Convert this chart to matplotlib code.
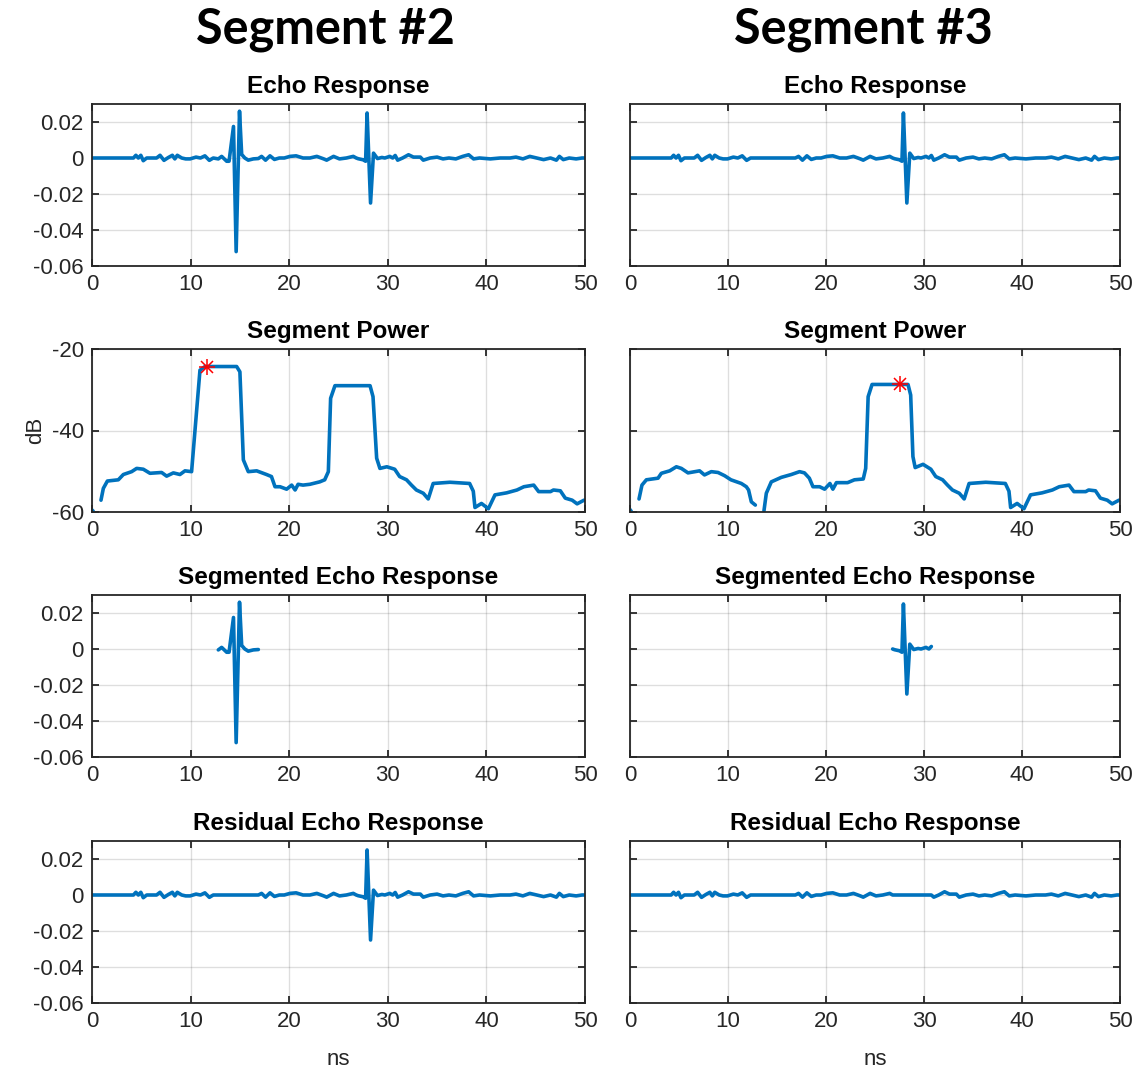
import numpy as np
import matplotlib
matplotlib.use("Agg")
import matplotlib.pyplot as plt

plt.rcParams['font.family'] = ['Liberation Sans', 'DejaVu Sans']
plt.rcParams['axes.unicode_minus'] = False

# ---------------- data ----------------
# full echo response (time in ns, amplitude)
echo_t = [0, 4.2, 4.45, 4.7, 4.95, 5.2, 5.55, 6.55, 6.9, 7.3, 7.75, 8.15, 8.4, 8.65, 9.1, 9.5, 9.95,
          10.55, 11.0, 11.45, 11.9, 12.3,
          12.81, 13.15, 13.66, 13.9, 14.35, 14.62, 14.96, 15.18, 15.5, 15.85, 16.36, 16.87,
          17.2, 17.6, 18.05, 18.5, 19.0, 19.5, 20.08, 20.7, 21.4, 22.1, 22.8, 23.5, 23.8, 24.5,
          25.1, 25.8, 26.5,
          26.8, 27.0, 27.5, 27.75, 27.9, 28.25, 28.55, 28.95, 29.4, 29.7, 30.2, 30.5, 30.75,
          31.0, 31.5, 32.1, 32.6, 33.3, 33.6, 34.3, 35.0, 35.6, 36.2, 36.9, 37.6, 38.2, 38.7,
          39.3, 40.4, 41.4, 42.4, 43.0, 43.7, 44.4, 45.1, 45.8, 46.5, 47.1, 47.4, 47.8, 48.4,
          49.1, 49.7, 50.0]
echo_v_milli = [0, 0, 1.5, 0, 1.5, -1.5, 0, 0, 1.5, -1.3, 0.3, 1.5, -0.5, 1.5, 0, -0.5, -0.5,
                0.5, 0, 1.2, -1.3, 0,
                -0.5, 0.9, -1.8, -1.8, 17.5, -52, 26, 2, 0, -1.2, -0.5, -0.3,
                0.9, -1.2, 1.2, -0.8, 0, 0, 0.9, 1.2, 0, 0, 0.9, -0.5, -1.2, 0.9,
                -0.5, 0, 0.9,
                0, -0.4, -1, -1.8, 25, -25, 2.7, -0.3, 0.3, 0, 0.9, 0, 1.4,
                -1.2, 0, 1.8, 0.5, 0.5, -1.2, 0, 0.5, -0.5, 0, -0.5, 0.9, 1.8, -0.5,
                0, -0.5, 0, 0, 0.5, -0.5, 0.9, 0, -0.9, 0, -1.2, 0.9, -0.9, 0,
                -0.5, 0, 0]

# segment windows (ns)
seg2_window = [12.75, 16.9]
seg3_window = [26.75, 30.8]

# segment power, segment #2 view (dB)
pow2_t = [0.0, 0.12, 0.5, 0.91, 1.15, 1.56, 2.67, 3.18, 4.02, 4.53, 5.2, 5.88, 7.06, 7.57, 8.25, 8.92,
          9.43, 10.1, 10.95, 11.46, 14.67, 15.0, 15.35, 15.85, 16.7, 17.7, 18.2, 18.56, 19.07,
          19.74, 20.25, 20.6, 20.9, 21.4, 22.1, 23.1, 23.6, 23.97, 24.2, 24.64, 28.2, 28.5,
          28.87, 29.2, 29.9, 30.7, 31.2, 31.9, 32.4, 32.9, 33.6, 34.1, 34.6, 36.3, 38.3, 38.67,
          38.84, 39.5, 40.2, 40.87, 42.05, 43.1, 43.8, 44.8, 45.3, 46.5, 46.8, 47.5, 48.0, 48.7,
          49.2, 49.9]
pow2_db = [-59.5, -59.8, np.nan, -57.1, -54.2, -52.4, -52.1, -50.8, -50.1, -49.3, -49.5, -50.5, -50.3,
           -51.2, -50.4, -50.8, -49.9, -50.1, -25.2, -24.3, -24.3, -25.6, -47.2, -50.1, -49.9,
           -50.8, -51.3, -53.8, -53.8, -54.4, -53.4, -54.6, -53.2, -53.4, -53.2, -52.6, -52.1,
           -50.1, -32.1, -29.0, -29.0, -31.7, -46.8, -49.3, -48.9, -49.5, -51.3, -52.1, -53.4,
           -54.6, -55.4, -56.8, -53.0, -52.7, -53.0, -54.9, -58.9, -57.9, -59.2, -55.8, -55.3,
           -54.6, -53.8, -53.4, -55.0, -55.0, -54.6, -54.8, -56.6, -57.1, -58.0, -57.1]
peak2_t, peak2_db = 11.63, -24.3

# segment power, segment #3 view (dB)
pow3_t = [0.0, 0.12, 0.5, 0.92, 1.22, 1.67, 2.86, 3.2, 4.05, 4.73, 5.24, 5.92, 7.1, 7.6, 8.3, 8.98,
          9.66, 10.3, 11.36, 11.87, 12.1, 12.38, 12.79, 13.2, 13.67, 13.91, 14.42, 15.44, 16.46,
          17.3, 17.8, 18.3, 18.67, 19.35, 19.86, 20.4, 20.7, 21.06, 22.2, 22.9, 23.8, 24.05,
          24.3, 24.7, 28.37, 28.64, 28.87, 29.1, 29.9, 30.7, 31.2, 31.9, 32.4, 32.9, 33.6, 34.1,
          34.6, 36.3, 38.3, 38.67, 38.84, 39.5, 40.2, 40.87, 42.05, 43.1, 43.8, 44.8, 45.3, 46.5,
          46.8, 47.5, 48.0, 48.7, 49.2, 49.9]
pow3_db = [-59.4, -59.8, np.nan, -56.8, -53.4, -52.1, -51.7, -50.5, -49.9, -48.9, -49.3, -50.4, -49.9,
           -50.9, -50.1, -50.3, -51.1, -52.1, -53.0, -53.8, -54.6, -57.5, -58.3, np.nan, -59.7,
           -55.4, -52.6, -51.5, -50.8, -50.1, -50.4, -51.7, -53.8, -53.8, -54.4, -53.0, -54.4,
           -52.8, -52.8, -52.1, -51.9, -49.3, -31.7, -28.7, -28.7, -31.3, -46.4, -49.1, -48.3,
           -49.5, -51.3, -52.1, -53.4, -54.6, -55.4, -56.8, -53.0, -52.7, -53.0, -54.9, -58.9,
           -57.9, -59.2, -55.8, -55.3, -54.6, -53.8, -53.4, -55.0, -55.0, -54.6, -54.8, -56.6,
           -57.1, -58.0, -57.1]
peak3_t, peak3_db = 27.5, -28.7

x_ticks = [0, 10, 20, 30, 40, 50]
echo_ticks = [-0.06, -0.04, -0.02, 0, 0.02]
echo_ticklabels = ['-0.06', '-0.04', '-0.02', '0', '0.02']
pow_ticks = [-60, -40, -20]
pow_ticklabels = ['-60', '-40', '-20']

# ---------------- derived series ----------------
t = np.array(echo_t)
echo = np.array(echo_v_milli) * 1e-3

def inside(w):
    return (t >= w[0]) & (t <= w[1])

seg2 = np.where(inside(seg2_window), echo, np.nan)
resid2 = np.where(inside(seg2_window), 0.0, echo)
seg3 = np.where(inside(seg3_window), resid2, np.nan)
resid3 = np.where(inside(seg3_window), 0.0, resid2)

# ---------------- figure ----------------
W, H = 1145, 1069
fig = plt.figure(figsize=(W / 100, H / 100), dpi=100)

blue = '#0072BD'
axc = (0.15, 0.15, 0.15)

col_x = [(92, 585), (630, 1120)]
row_y = [(104, 266), (349, 512), (595, 757), (841, 1003)]

def make_ax(c, r):
    x0, x1 = col_x[c]
    y0, y1 = row_y[r]
    return fig.add_axes([x0 / W, 1 - y1 / H, (x1 - x0) / W, (y1 - y0) / H])

def style(ax, kind, show_ylabels):
    ax.set_xlim(0, 50)
    ax.set_xticks(x_ticks)
    ax.set_xticklabels([str(v) for v in x_ticks])
    if kind == 'echo':
        ax.set_ylim(-0.06, 0.03)
        ax.set_yticks(echo_ticks)
        ax.set_yticklabels(echo_ticklabels if show_ylabels else [])
    else:
        ax.set_ylim(-60, -20)
        ax.set_yticks(pow_ticks)
        ax.set_yticklabels(pow_ticklabels if show_ylabels else [])
    ax.grid(True, color=(0.15, 0.15, 0.15), alpha=0.15, linewidth=1.0)
    ax.set_axisbelow(True)
    for s in ax.spines.values():
        s.set_color(axc)
        s.set_linewidth(1.3)
    ax.tick_params(direction='in', length=5, width=1.3, color=axc, labelcolor=axc,
                   labelsize=16, top=True, right=True, pad=6)

titles = ['Echo Response', 'Segment Power', 'Segmented Echo Response', 'Residual Echo Response']

series = [
    [(t, echo), (pow2_t, pow2_db), (t, seg2), (t, resid2)],
    [(t, resid2), (pow3_t, pow3_db), (t, seg3), (t, resid3)],
]
peaks = [(peak2_t, peak2_db), (peak3_t, peak3_db)]

for c in range(2):
    for r in range(4):
        ax = make_ax(c, r)
        kind = 'power' if r == 1 else 'echo'
        style(ax, kind, c == 0)
        xs, ys = series[c][r]
        ax.plot(xs, ys, color=blue, linewidth=2.6, solid_joinstyle='round',
                solid_capstyle='round', clip_on=True)
        if r == 1:
            pt, pdb = peaks[c]
            ax.plot([pt], [pdb], marker='+', color='red', markersize=12, mew=1.1)
            ax.plot([pt], [pdb], marker='x', color='red', markersize=9, mew=1.1)
            if c == 0:
                ax.set_ylabel('dB', fontsize=16, color=axc, labelpad=4)
        ax.set_title(titles[r], fontsize=17.5, fontweight='bold', color='black', pad=8)
        if r == 3:
            ax.set_xlabel('ns', fontsize=16, color=axc, labelpad=12)

fig.text(0.284, 0.972, 'Segment #2', fontsize=35, fontweight='bold', family='Lato',
         ha='center', va='center')
fig.text(0.754, 0.972, 'Segment #3', fontsize=35, fontweight='bold', family='Lato',
         ha='center', va='center')

fig.savefig('out.png', dpi=100, facecolor='white')
